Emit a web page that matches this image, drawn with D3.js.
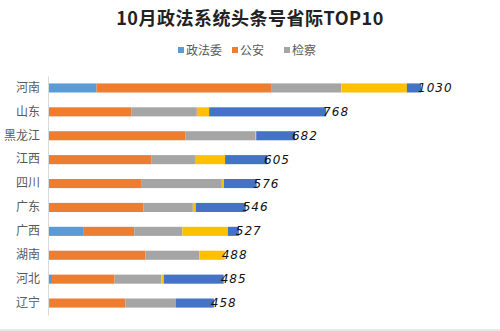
<!DOCTYPE html>
<html><head><meta charset="utf-8">
<script src="https://cdn.jsdelivr.net/npm/d3@7/dist/d3.min.js"></script>
<style>body{margin:0;background:#fff}svg{display:block}</style>
</head><body>
<svg id="c" width="500" height="331"></svg>
<script>
const categories = ["河南","山东","黑龙江","江西","四川","广东","广西","湖南","河北","辽宁"];
const seriesNames = ["政法委","公安","检察","法院","司法"];
const zhengfawei = [134, 0, 0, 0, 0, 0, 97, 0, 11, 3];
const gongan     = [482, 231, 380, 285, 257, 263, 141, 269, 173, 211];
const jiancha    = [194, 180, 192, 123, 223, 137, 133, 149, 129, 139];
const fayuan     = [181, 34, 3, 81, 6, 8, 126, 70, 7, 0];
const sifa       = [39, 323, 107, 116, 90, 138, 30, 0, 165, 105];
const totals     = [1030, 768, 682, 605, 576, 546, 527, 488, 485, 458];
const legendShown = ["政法委","公安","检察"];
const colors = ["#5B9BD5","#ED7D31","#A5A5A5","#FFC000","#4472C4"];

const svg = d3.select("#c");
const seriesVals = [zhengfawei, gongan, jiancha, fayuan, sifa];
const rows = categories.map((c,i)=>{
  const o = {cat:c, total: totals[i]};
  seriesNames.forEach((s,j)=>o[s]=seriesVals[j][i]);
  return o;
});
const stack = d3.stack().keys(seriesNames)(rows);

const x = d3.scaleLinear().domain([0,1030]).range([48,421]);
const y = d3.scaleBand().domain(categories).range([76,315]).paddingInner(0.62).paddingOuter(0.31);
const color = d3.scaleOrdinal().domain(seriesNames).range(colors);

// title
svg.append("text").attr("x",250).attr("y",25).attr("text-anchor","middle")
  .attr("font-family","'Noto Sans CJK SC', sans-serif").attr("font-weight","bold")
  .attr("font-size",18).attr("fill","#222").attr("letter-spacing",0.5)
  .text("10月政法系统头条号省际TOP10");

// legend
const legPos = [178, 232, 284];
const lg = svg.append("g");
legendShown.forEach((s,i)=>{
  lg.append("rect").attr("x",legPos[i]).attr("y",47).attr("width",6).attr("height",6).attr("fill",color(s));
  lg.append("text").attr("x",legPos[i]+8).attr("y",55)
    .attr("font-family","'Noto Sans CJK SC', sans-serif").attr("font-size",12)
    .attr("fill","#595959").text(s);
});

// bars
svg.append("g").selectAll("g").data(stack).join("g").attr("fill",d=>color(d.key))
  .selectAll("rect").data(d=>d).join("rect")
  .attr("x",d=>x(d[0])).attr("width",d=>Math.max(0,x(d[1])-x(d[0])))
  .attr("y",d=>y(d.data.cat)).attr("height",y.bandwidth());

// axis
const ax = svg.append("g").attr("transform","translate(48,0)").call(d3.axisLeft(y).tickSize(0).tickPadding(8));
ax.select(".domain").attr("stroke","#d9d9d9");
ax.selectAll("text").attr("font-family","'Noto Sans CJK SC', sans-serif").attr("font-size",12).attr("fill","#595959");

// value labels
svg.append("g").selectAll("text").data(rows).join("text")
  .attr("x",d=>x(d.total)-3).attr("y",d=>y(d.cat)+y.bandwidth()/2+4)
  .attr("font-family","'DejaVu Sans', sans-serif").attr("font-style","italic")
  .attr("font-size",12).attr("letter-spacing",1).attr("fill","#111")
  .text(d=>d.total);

// bottom border
svg.append("line").attr("x1",0).attr("x2",500).attr("y1",330).attr("y2",330).attr("stroke","#d0d0d0");
</script>
</body></html>
